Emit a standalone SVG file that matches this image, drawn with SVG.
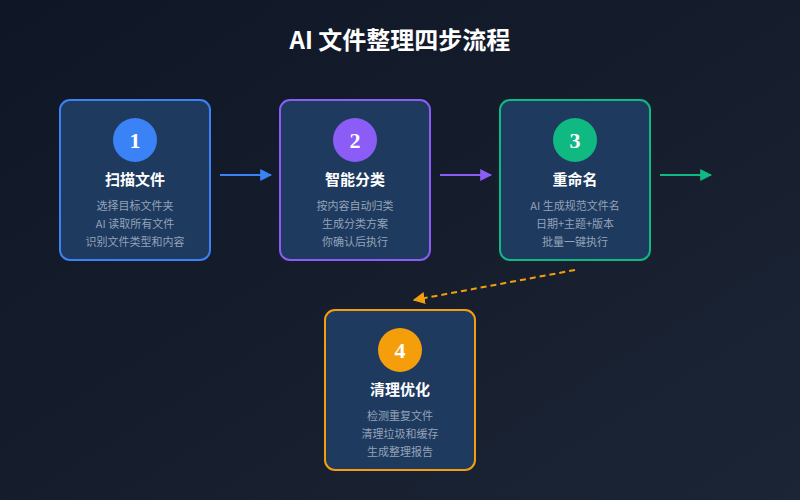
<svg xmlns="http://www.w3.org/2000/svg" width="800" height="500" viewBox="0 0 800 500">
<defs>
<linearGradient id="bg" x1="0" y1="0" x2="1" y2="1"><stop offset="0" stop-color="#0f1626"/><stop offset="1" stop-color="#1c2535"/></linearGradient>
<marker id="mb" viewBox="0 0 10 10" refX="9" refY="5" markerWidth="12" markerHeight="12" markerUnits="userSpaceOnUse" orient="auto"><path d="M0,0L10,5L0,10z" fill="#3b82f6"/></marker>
<marker id="mp" viewBox="0 0 10 10" refX="9" refY="5" markerWidth="12" markerHeight="12" markerUnits="userSpaceOnUse" orient="auto"><path d="M0,0L10,5L0,10z" fill="#8b5cf6"/></marker>
<marker id="mg" viewBox="0 0 10 10" refX="9" refY="5" markerWidth="12" markerHeight="12" markerUnits="userSpaceOnUse" orient="auto"><path d="M0,0L10,5L0,10z" fill="#10b981"/></marker>
<marker id="mo" viewBox="0 0 10 10" refX="9" refY="5" markerWidth="12" markerHeight="12" markerUnits="userSpaceOnUse" orient="auto"><path d="M0,0L10,5L0,10z" fill="#f59e0b"/></marker>
</defs>
<style>
.box{fill:#1e3a5f;stroke-width:2}
.num{font-family:"Liberation Serif",serif;font-weight:bold;font-size:22px;fill:#fff;text-anchor:middle}
.ttl{font-family:"Noto Sans CJK SC",sans-serif;font-weight:bold;font-size:15px;fill:#fff;text-anchor:middle}
.d{font-family:"Noto Sans CJK SC",sans-serif;font-size:11px;fill:#94a3b8;text-anchor:middle}
.c{stroke-width:2;fill:none}
</style>
<rect width="800" height="500" fill="url(#bg)"/>
<text x="400" y="49" font-family="Noto Sans CJK SC,sans-serif" font-weight="bold" font-size="24" fill="#fff" text-anchor="middle">AI 文件整理四步流程</text>
<g id="n1"><rect class="box" x="60" y="100" width="150" height="160" rx="10" stroke="#3b82f6"/><circle cx="135" cy="140" r="22" fill="#3b82f6"/><text class="num" x="135" y="148">1</text><text class="ttl" x="135" y="185">扫描文件</text><text class="d" x="135" y="210">选择目标文件夹</text><text class="d" x="135" y="228">AI 读取所有文件</text><text class="d" x="135" y="246">识别文件类型和内容</text></g>
<g id="n2"><rect class="box" x="280" y="100" width="150" height="160" rx="10" stroke="#8b5cf6"/><circle cx="355" cy="140" r="22" fill="#8b5cf6"/><text class="num" x="355" y="148">2</text><text class="ttl" x="355" y="185">智能分类</text><text class="d" x="355" y="210">按内容自动归类</text><text class="d" x="355" y="228">生成分类方案</text><text class="d" x="355" y="246">你确认后执行</text></g>
<g id="n3"><rect class="box" x="500" y="100" width="150" height="160" rx="10" stroke="#10b981"/><circle cx="575" cy="140" r="22" fill="#10b981"/><text class="num" x="575" y="148">3</text><text class="ttl" x="575" y="185">重命名</text><text class="d" x="575" y="210">AI 生成规范文件名</text><text class="d" x="575" y="228">日期+主题+版本</text><text class="d" x="575" y="246">批量一键执行</text></g>
<g id="n4"><rect class="box" x="325" y="310" width="150" height="160" rx="10" stroke="#f59e0b"/><circle cx="400" cy="350" r="22" fill="#f59e0b"/><text class="num" x="400" y="358">4</text><text class="ttl" x="400" y="395">清理优化</text><text class="d" x="400" y="420">检测重复文件</text><text class="d" x="400" y="438">清理垃圾和缓存</text><text class="d" x="400" y="456">生成整理报告</text></g>
<g id="connectors">
<line class="c" x1="220" y1="175" x2="271" y2="175" stroke="#3b82f6" marker-end="url(#mb)"/>
<line class="c" x1="440" y1="175" x2="491" y2="175" stroke="#8b5cf6" marker-end="url(#mp)"/>
<line class="c" x1="660" y1="175" x2="711" y2="175" stroke="#10b981" marker-end="url(#mg)"/>
<line class="c" x1="575" y1="270" x2="414" y2="300" stroke="#f59e0b" stroke-dasharray="6,4" marker-end="url(#mo)"/>
</g>
</svg>
